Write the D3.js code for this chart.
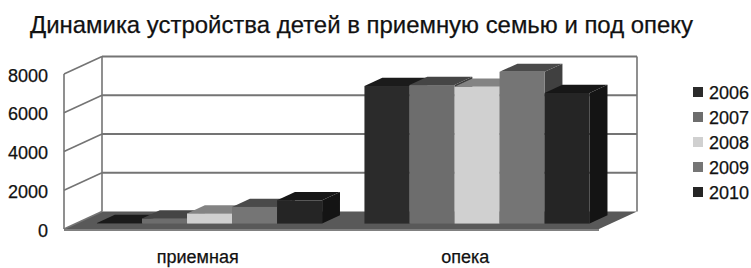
<!DOCTYPE html>
<html>
<head>
<meta charset="utf-8">
<script src="https://cdn.jsdelivr.net/npm/d3@7"></script>
<style>
	html, body { margin: 0; padding: 0; background: #fff; }
	svg { display: block; font-family: "Liberation Sans", Arial, sans-serif; }
	text { fill: #111; stroke: #111; stroke-width: 0.25px; }
</style>
</head>
<body>
<div id="chart"></div>
<script>
// values
const categories = ['приемная', 'опека'];
const years = ['2006', '2007', '2008', '2009', '2010'];
const priemnaya = [30, 260, 520, 860, 1200];
const opeka = [7100, 7150, 7060, 7830, 6740];
const yTicks = [0, 2000, 4000, 6000, 8000];
const colors = ['#2b2b2b', '#6d6d6d', '#d0d0d0', '#757575', '#252525'];
const title = 'Динамика устройства детей в приемную семью и под опеку';

const series = [priemnaya, opeka];

const width = 751, height = 268;
// oblique depth of the 3d box
const DX = 38, DY = -17.5;
// bars sit between these depth fractions
const F0 = 0.31, F1 = 0.78;

const svg = d3.select('#chart').append('svg')
	.attr('width', width)
	.attr('height', height);

const x = d3.scaleBand().domain(categories).range([64, 599]);
const xIn = d3.scaleBand().domain(years).range([0, x.bandwidth()]).paddingOuter(0.47);
const y = d3.scaleLinear().domain([0, 8000]).range([229, 74]);

const pt = (px, py, f) => [px + f * DX, py + f * DY];
const poly = pts => pts.map(p => p.join(',')).join(' ');

const wall = svg.append('g').classed('layer-0', true);
const bars = svg.append('g').classed('layer-1', true);
const labels = svg.append('g').classed('layer-2', true);

/* floor */
const x0 = x.range()[0], x1 = x.range()[1];
wall.append('polygon')
	.attr('points', poly([pt(x0, y(0), 0), pt(x1, y(0), 0), pt(x1, y(0), 1), pt(x0, y(0), 1)]))
	.attr('fill', '#595959');
wall.append('line')
	.attr('x1', x0).attr('x2', x1)
	.attr('y1', y(0) + 1).attr('y2', y(0) + 1)
	.attr('stroke', '#808080').attr('stroke-width', 2);

/* back wall grid + left wall lines */
const gridColor = '#747474';
yTicks.forEach(v => {
	const a = pt(x0, y(v), 0), b = pt(x0, y(v), 1), c = pt(x1, y(v), 1);
	wall.append('line')
		.attr('x1', a[0]).attr('y1', a[1]).attr('x2', b[0]).attr('y2', b[1])
		.attr('stroke', gridColor).attr('stroke-width', 1.6);
	if (v > 0) {
		wall.append('line')
			.attr('x1', b[0]).attr('y1', b[1]).attr('x2', c[0]).attr('y2', c[1])
			.attr('stroke', gridColor).attr('stroke-width', 2);
	}
});
[[x0, 0], [x0, 1], [x1, 1]].forEach(([px, f]) => {
	const a = pt(px, y(0), f), b = pt(px, y(8000), f);
	wall.append('line')
		.attr('x1', a[0]).attr('y1', a[1]).attr('x2', b[0]).attr('y2', b[1])
		.attr('stroke', gridColor).attr('stroke-width', 1.6);
});

/* bars, left to right so the next front face hides the previous side */
categories.forEach((cat, ci) => {
	years.forEach((yr, yi) => {
		const v = series[ci][yi];
		const l = x(cat) + xIn(yr), r = l + xIn.bandwidth();
		const top = y(v), bot = y(0);
		const c = d3.color(colors[yi]);
		const g = bars.append('g');
		// side
		g.append('polygon')
			.attr('points', poly([pt(r, bot, F0), pt(r, bot, F1), pt(r, top, F1), pt(r, top, F0)]))
			.attr('fill', c.darker(1.7));
		// top
		g.append('polygon')
			.attr('points', poly([pt(l, top, F0), pt(r, top, F0), pt(r, top, F1), pt(l, top, F1)]))
			.attr('fill', c.darker(1.3));
		// front
		const p = pt(l, top, F0);
		g.append('rect')
			.attr('x', p[0]).attr('y', p[1])
			.attr('width', r - l).attr('height', bot - top)
			.attr('fill', c);
	});
});

/* y axis labels */
labels.append('g')
	.attr('transform', `translate(${x0},0)`)
	.call(d3.axisLeft(y).tickValues(yTicks).tickFormat(d3.format('d')).tickSize(0).tickPadding(16))
	.call(g => g.select('.domain').remove())
	.selectAll('text')
	.attr('font-family', '"Liberation Sans", Arial, sans-serif')
	.attr('font-size', 18)
	.attr('dy', '0.4em');

/* category labels */
labels.selectAll('.cat')
	.data(categories)
	.enter().append('text')
	.attr('x', d => x(d) + x.bandwidth() / 2)
	.attr('y', 263)
	.attr('text-anchor', 'middle')
	.attr('font-size', 18)
	.text(d => d);

/* legend */
const legend = labels.selectAll('.legend')
	.data(years)
	.enter().append('g')
	.attr('transform', (d, i) => `translate(693,${92 + i * 25})`);
legend.append('rect')
	.attr('x', 0).attr('y', -5)
	.attr('width', 10).attr('height', 10)
	.style('stroke', 'none')
	.attr('fill', (d, i) => colors[i]);
legend.append('text')
	.attr('x', 16).attr('y', 6.5)
	.attr('font-size', 18)
	.text(d => d);

/* title */
labels.append('text')
	.attr('x', 30).attr('y', 33)
	.attr('font-size', 24)
	.attr('textLength', 663)
	.attr('lengthAdjust', 'spacingAndGlyphs')
	.text(title);
</script>
</body>
</html>
